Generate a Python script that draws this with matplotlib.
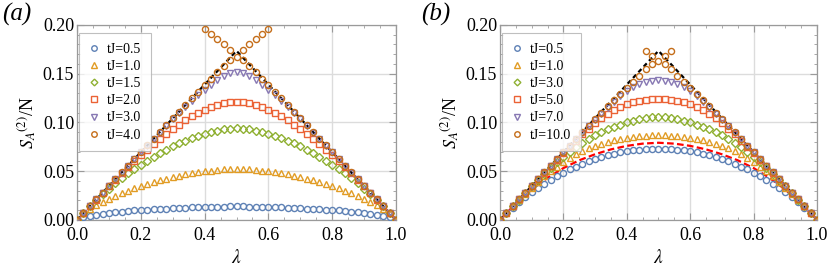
import numpy as np
import matplotlib
matplotlib.use("Agg")
import matplotlib.pyplot as plt
from matplotlib.ticker import MultipleLocator

plt.rcParams['font.family'] = ['Liberation Serif', 'DejaVu Serif']
plt.rcParams['mathtext.fontset'] = 'stix'

# lambda grid of the markers (51 points, step 0.02)
lam = np.linspace(0.0, 1.0, 51)

# ---------------- panel (a) ----------------
labels_a = ["tJ=0.5", "tJ=1.0", "tJ=1.5", "tJ=2.0", "tJ=3.0", "tJ=4.0"]

a_05 = [0.0, 0.0025, 0.0041, 0.0053, 0.0063, 0.0071, 0.0078, 0.0084, 0.0090, 0.0095,
        0.0099, 0.0103, 0.0107, 0.0111, 0.0114, 0.0117, 0.0120, 0.0123, 0.0126, 0.0128,
        0.0130, 0.0132, 0.0134, 0.0135, 0.0136, 0.0136, 0.0136, 0.0135, 0.0134, 0.0132,
        0.0130, 0.0128, 0.0126, 0.0123, 0.0120, 0.0117, 0.0114, 0.0111, 0.0107, 0.0103,
        0.0099, 0.0095, 0.0090, 0.0084, 0.0078, 0.0071, 0.0063, 0.0053, 0.0041, 0.0025, 0.0]
a_10 = [0.0, 0.0066, 0.0110, 0.0148, 0.0183, 0.0215, 0.0245, 0.0273, 0.0299, 0.0323,
        0.0346, 0.0367, 0.0387, 0.0405, 0.0422, 0.0438, 0.0452, 0.0465, 0.0477, 0.0488,
        0.0497, 0.0505, 0.0512, 0.0517, 0.0521, 0.0523, 0.0521, 0.0517, 0.0512, 0.0505,
        0.0497, 0.0488, 0.0477, 0.0465, 0.0452, 0.0438, 0.0422, 0.0405, 0.0387, 0.0367,
        0.0346, 0.0323, 0.0299, 0.0273, 0.0245, 0.0215, 0.0183, 0.0148, 0.0110, 0.0066, 0.0]
a_15 = [0.0, 0.0069, 0.0136, 0.0200, 0.0261, 0.0319, 0.0374, 0.0426, 0.0475, 0.0521,
        0.0564, 0.0605, 0.0644, 0.0681, 0.0717, 0.0752, 0.0784, 0.0813, 0.0839, 0.0862,
        0.0882, 0.0899, 0.0915, 0.0927, 0.0935, 0.0938, 0.0935, 0.0927, 0.0915, 0.0899,
        0.0882, 0.0862, 0.0839, 0.0813, 0.0784, 0.0752, 0.0717, 0.0681, 0.0644, 0.0605,
        0.0564, 0.0521, 0.0475, 0.0426, 0.0374, 0.0319, 0.0261, 0.0200, 0.0136, 0.0069, 0.0]
a_20 = [0.0, 0.0069, 0.0138, 0.0207, 0.0275, 0.0343, 0.0410, 0.0475, 0.0539, 0.0600,
        0.0660, 0.0718, 0.0774, 0.0828, 0.0880, 0.0930, 0.0976, 0.1020, 0.1061, 0.1098,
        0.1130, 0.1158, 0.1180, 0.1196, 0.1206, 0.1210, 0.1206, 0.1196, 0.1180, 0.1158,
        0.1130, 0.1098, 0.1061, 0.1020, 0.0976, 0.0930, 0.0880, 0.0828, 0.0774, 0.0718,
        0.0660, 0.0600, 0.0539, 0.0475, 0.0410, 0.0343, 0.0275, 0.0207, 0.0138, 0.0069, 0.0]
a_30 = [0.0, 0.0069, 0.0139, 0.0208, 0.0277, 0.0346, 0.0415, 0.0484, 0.0553, 0.0622,
        0.0690, 0.0758, 0.0826, 0.0893, 0.0962, 0.1030, 0.1097, 0.1160, 0.1220, 0.1278,
        0.1332, 0.1383, 0.1430, 0.1471, 0.1503, 0.1520, 0.1503, 0.1471, 0.1430, 0.1383,
        0.1332, 0.1278, 0.1220, 0.1160, 0.1097, 0.1030, 0.0962, 0.0893, 0.0826, 0.0758,
        0.0690, 0.0622, 0.0553, 0.0484, 0.0415, 0.0346, 0.0277, 0.0208, 0.0139, 0.0069, 0.0]
a_40 = [0.0, 0.0069, 0.0139, 0.0208, 0.0277, 0.0347, 0.0416, 0.0485, 0.0554, 0.0624,
        0.0693, 0.0762, 0.0832, 0.0901, 0.0970, 0.1039, 0.1109, 0.1178, 0.1247, 0.1315,
        0.1380, 0.1448, 0.1515, 0.1580, 0.1640, 0.1675, 0.1640, 0.1580, 0.1515, 0.1448,
        0.1380, 0.1315, 0.1247, 0.1178, 0.1109, 0.1039, 0.0970, 0.0901, 0.0832, 0.0762,
        0.0693, 0.0624, 0.0554, 0.0485, 0.0416, 0.0347, 0.0277, 0.0208, 0.0139, 0.0069, 0.0]
# extra upper branch of tJ=4.0 near the middle
a_40x_lam = [0.40, 0.42, 0.44, 0.46, 0.48, 0.52, 0.54, 0.56, 0.58, 0.60]
a_40x = [0.1955, 0.1910, 0.1855, 0.1800, 0.1745, 0.1745, 0.1800, 0.1855, 0.1910, 0.1955]

# ---------------- panel (b) ----------------
labels_b = ["tJ=0.5", "tJ=1.0", "tJ=3.0", "tJ=5.0", "tJ=7.0", "tJ=10.0"]

b_05 = [0.0, 0.0066, 0.0125, 0.0180, 0.0232, 0.0281, 0.0327, 0.0370, 0.0410, 0.0448,
        0.0483, 0.0516, 0.0546, 0.0574, 0.0600, 0.0623, 0.0644, 0.0662, 0.0678, 0.0692,
        0.0703, 0.0713, 0.0720, 0.0725, 0.0728, 0.0729, 0.0728, 0.0725, 0.0720, 0.0713,
        0.0703, 0.0692, 0.0678, 0.0662, 0.0644, 0.0623, 0.0600, 0.0574, 0.0546, 0.0516,
        0.0483, 0.0448, 0.0410, 0.0370, 0.0327, 0.0281, 0.0232, 0.0180, 0.0125, 0.0066, 0.0]
b_10 = [0.0, 0.0069, 0.0137, 0.0203, 0.0268, 0.0330, 0.0388, 0.0444, 0.0497, 0.0545,
        0.0590, 0.0632, 0.0670, 0.0704, 0.0734, 0.0760, 0.0782, 0.0801, 0.0817, 0.0831,
        0.0842, 0.0851, 0.0858, 0.0863, 0.0866, 0.0867, 0.0866, 0.0863, 0.0858, 0.0851,
        0.0842, 0.0831, 0.0817, 0.0801, 0.0782, 0.0760, 0.0734, 0.0704, 0.0670, 0.0632,
        0.0590, 0.0545, 0.0497, 0.0444, 0.0388, 0.0330, 0.0268, 0.0203, 0.0137, 0.0069, 0.0]
b_30 = [0.0, 0.0069, 0.0138, 0.0207, 0.0275, 0.0342, 0.0407, 0.0470, 0.0530, 0.0588,
        0.0643, 0.0695, 0.0743, 0.0788, 0.0829, 0.0866, 0.0899, 0.0928, 0.0954, 0.0977,
        0.0998, 0.1017, 0.1033, 0.1045, 0.1053, 0.1056, 0.1053, 0.1045, 0.1033, 0.1017,
        0.0998, 0.0977, 0.0954, 0.0928, 0.0899, 0.0866, 0.0829, 0.0788, 0.0743, 0.0695,
        0.0643, 0.0588, 0.0530, 0.0470, 0.0407, 0.0342, 0.0275, 0.0207, 0.0138, 0.0069, 0.0]
b_50 = [0.0, 0.0069, 0.0139, 0.0208, 0.0277, 0.0346, 0.0414, 0.0482, 0.0550, 0.0616,
        0.0682, 0.0748, 0.0813, 0.0876, 0.0935, 0.0990, 0.1040, 0.1085, 0.1124, 0.1157,
        0.1184, 0.1205, 0.1221, 0.1232, 0.1238, 0.1240, 0.1238, 0.1232, 0.1221, 0.1205,
        0.1184, 0.1157, 0.1124, 0.1085, 0.1040, 0.0990, 0.0935, 0.0876, 0.0813, 0.0748,
        0.0682, 0.0616, 0.0550, 0.0482, 0.0414, 0.0346, 0.0277, 0.0208, 0.0139, 0.0069, 0.0]
b_70 = [0.0, 0.0069, 0.0139, 0.0208, 0.0277, 0.0347, 0.0416, 0.0485, 0.0554, 0.0623,
        0.0692, 0.0760, 0.0828, 0.0895, 0.0960, 0.1024, 0.1087, 0.1149, 0.1210, 0.1268,
        0.1318, 0.1360, 0.1392, 0.1415, 0.1428, 0.1432, 0.1428, 0.1415, 0.1392, 0.1360,
        0.1318, 0.1268, 0.1210, 0.1149, 0.1087, 0.1024, 0.0960, 0.0895, 0.0828, 0.0760,
        0.0692, 0.0623, 0.0554, 0.0485, 0.0416, 0.0347, 0.0277, 0.0208, 0.0139, 0.0069, 0.0]
b_100 = [0.0, 0.0069, 0.0139, 0.0208, 0.0277, 0.0347, 0.0416, 0.0485, 0.0554, 0.0623,
         0.0692, 0.0761, 0.0829, 0.0897, 0.0964, 0.1031, 0.1097, 0.1162, 0.1226, 0.1289,
         0.1350, 0.1412, 0.1475, 0.1550, 0.1600, 0.1630, 0.1600, 0.1550, 0.1475, 0.1412,
         0.1350, 0.1289, 0.1226, 0.1162, 0.1097, 0.1031, 0.0964, 0.0897, 0.0829, 0.0761,
         0.0692, 0.0623, 0.0554, 0.0485, 0.0416, 0.0347, 0.0277, 0.0208, 0.0139, 0.0069, 0.0]
b_100x_lam = [0.46, 0.48, 0.52, 0.54]
b_100x = [0.1735, 0.1685, 0.1685, 0.1735]

# red dashed curve in (b)
red_lam = [0.0, 0.05, 0.10, 0.15, 0.20, 0.25, 0.30, 0.35, 0.40, 0.45, 0.50,
           0.55, 0.60, 0.65, 0.70, 0.75, 0.80, 0.85, 0.90, 0.95, 1.0]
red_val = [0.0, 0.0165, 0.0310, 0.0430, 0.0530, 0.0610, 0.0672, 0.0722, 0.0758, 0.0781, 0.0790,
           0.0781, 0.0758, 0.0722, 0.0672, 0.0610, 0.0530, 0.0430, 0.0310, 0.0165, 0.0]

# page curve (black dashed)
page_lam = [0.0, 0.5, 1.0]
page_val = [0.0, 0.1733, 0.0]

colors = ["#5E81B5", "#E19C24", "#8FB032", "#EB6235", "#8778B3", "#C56E1A"]
markers = ["o", "^", "D", "s", "v", "o"]
msizes = [4.4, 4.8, 3.8, 4.2, 4.8, 4.4]

fig = plt.figure(figsize=(8.3, 2.67), dpi=100)
ax_a = fig.add_axes([0.0928, 0.177, 0.3843, 0.730])
ax_b = fig.add_axes([0.6024, 0.177, 0.3819, 0.730])

frame_c = "#9a9a9a"


def style(ax):
    ax.set_xlim(0, 1)
    ax.set_ylim(0, 0.2)
    ax.xaxis.set_major_locator(MultipleLocator(0.2))
    ax.xaxis.set_minor_locator(MultipleLocator(0.05))
    ax.yaxis.set_major_locator(MultipleLocator(0.05))
    ax.yaxis.set_minor_locator(MultipleLocator(0.01))
    ax.xaxis.set_major_formatter(plt.FuncFormatter(lambda v, p: "%.1f" % v))
    ax.yaxis.set_major_formatter(plt.FuncFormatter(lambda v, p: "%.2f" % v))
    ax.tick_params(which="both", direction="in", top=True, right=True,
                   color=frame_c, labelsize=13)
    ax.tick_params(axis="y", pad=2)
    ax.tick_params(axis="x", pad=5)
    ax.tick_params(which="major", length=5, width=0.8)
    ax.tick_params(which="minor", length=2.5, width=0.6)
    ax.grid(True, which="major", color="#dcdcdc", lw=1.0)
    ax.set_axisbelow(True)
    for s in ax.spines.values():
        s.set_color(frame_c)
        s.set_linewidth(0.9)
    ax.set_xlabel(r"$\lambda$", fontsize=14, labelpad=4)
    ax.set_ylabel(r"$S_A{}^{(2)}$/N", fontsize=13, labelpad=3)


def draw(ax, series, labels, extra_lam, extra_val):
    ax.plot(page_lam, page_val, color="black", ls=(0, (2.0, 1.5)), lw=1.6, zorder=2)
    handles = []
    for i, (vals, lab) in enumerate(zip(series, labels)):
        h, = ax.plot(lam, vals, ls="none", marker=markers[i], ms=msizes[i],
                     mfc="none", mec=colors[i], mew=1.0, label=lab, zorder=3)
        handles.append(h)
    ax.plot(extra_lam, extra_val, ls="none", marker="o", ms=msizes[5],
            mfc="none", mec=colors[5], mew=1.0, zorder=3)
    leg = ax.legend(handles=handles, loc="upper left", bbox_to_anchor=(0.006, 0.958),
                    borderaxespad=0, fontsize=10, frameon=True, fancybox=False,
                    edgecolor="#b0b0b0", handlelength=0.8, handletextpad=0.5,
                    labelspacing=0.3, borderpad=0.7, markerscale=0.9)
    leg.get_frame().set_linewidth(0.8)


style(ax_a)
draw(ax_a, [a_05, a_10, a_15, a_20, a_30, a_40], labels_a, a_40x_lam, a_40x)

style(ax_b)
ax_b.plot(red_lam, red_val, color="red", ls=(0, (3, 1.5)), lw=1.6, zorder=2)
draw(ax_b, [b_05, b_10, b_30, b_50, b_70, b_100], labels_b, b_100x_lam, b_100x)

fig.text(0.003, 0.99, "(a)", fontsize=18, style="italic", va="top", ha="left")
fig.text(0.507, 0.99, "(b)", fontsize=18, style="italic", va="top", ha="left")

fig.savefig("out.png", dpi=100)
